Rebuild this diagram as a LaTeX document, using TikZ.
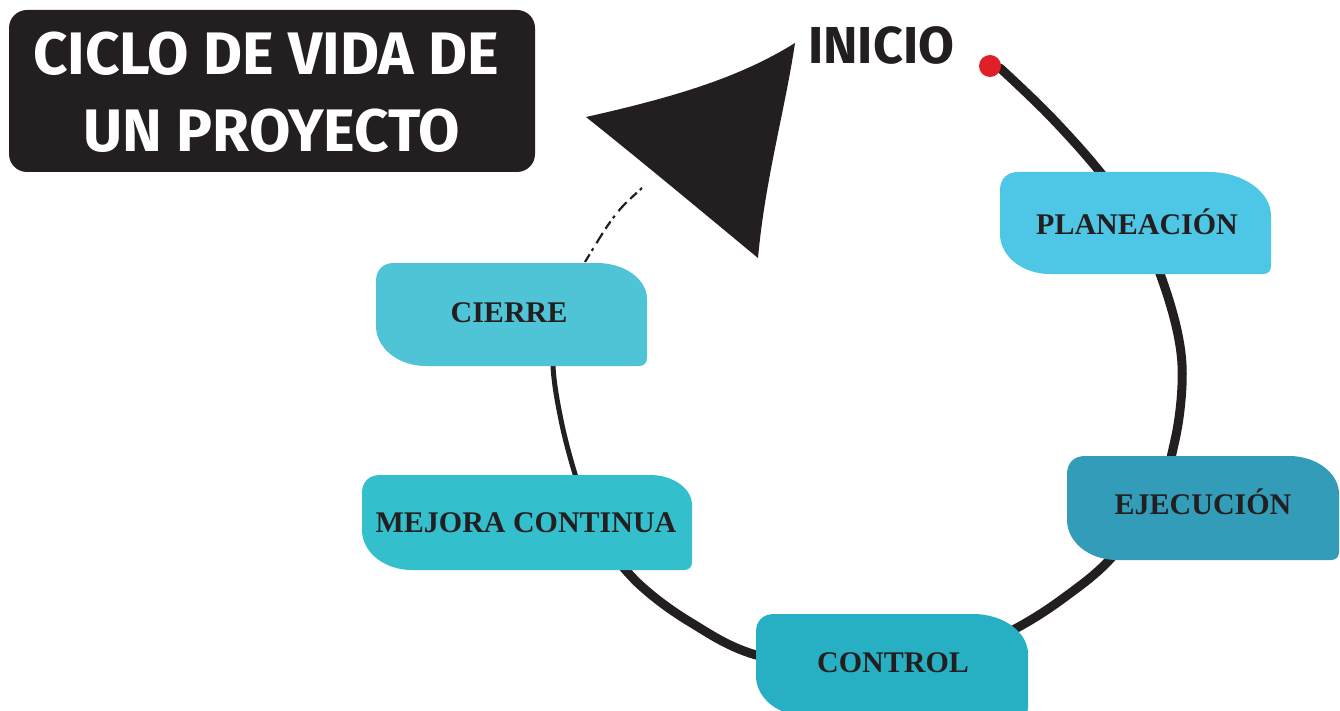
\documentclass[tikz,border=0pt]{standalone}
\usepackage{fontspec}
\setmainfont{Liberation Serif}
\newfontfamily\titlefont{Fira Sans}
\definecolor{ink}{HTML}{231F20}
\definecolor{cplan}{HTML}{4EC7E6}
\definecolor{cejec}{HTML}{339DB9}
\definecolor{ccont}{HTML}{27B0C3}
\definecolor{cmejo}{HTML}{33C0CC}
\definecolor{ccier}{HTML}{4FC4D6}
\definecolor{reddot}{HTML}{E02027}
\tikzset{
  lbl/.style={font=\fontsize{30}{30}\selectfont\bfseries, text=ink, inner sep=0pt},
  stroke/.style={draw=ink, line width=9pt, line cap=round, line join=round},
  thinstroke/.style={draw=ink, line width=5pt, line cap=round},
  ttl/.style={font=\titlefont\bfseries\fontsize{60}{77}\selectfont, text=white, anchor=base},
}
% #1 name, #2 x1, #3 y1, #4 x2, #5 y2, #6 colour, #7 text, #8 top-right h radius, #9 top-right v radius
\newcommand{\leafbox}[9]{%
  \fill[#6] (#2,#3+18) .. controls (#2,#3+7) and (#2+7,#3) .. (#2+18,#3)
    -- (#4-#8,#3) .. controls (#4-0.45*#8,#3) and (#4,#3+0.45*#9) .. (#4,#3+#9)
    -- (#4,#5-8) .. controls (#4,#5-3) and (#4-3,#5) .. (#4-8,#5)
    -- (#2+50,#5) .. controls (#2+22,#5) and (#2,#5-18) .. (#2,#5-40) -- cycle;
}
\begin{document}
\begin{tikzpicture}[x=1pt,y=-1pt]
\clip (0,0) rectangle (1340,711);
\fill[white] (0,0) rectangle (1340,711);

% title
\fill[ink, rounded corners=18pt] (9,10) rectangle (535,172);
\node[ttl] (t1) at (266,75) {CICLO DE VIDA DE};
\node[ttl] (t2) at (272,152) {UN PROYECTO};

% cycle stroke
\draw[stroke] plot[smooth, tension=0.6] coordinates {
  (1000,68) (1050,116) (1100,172) (1140,228) (1164,285) (1179,340) (1182,385)
  (1175,440) (1158,492) (1113,556) (1065,597) (1013,630) (950,658) (860,672)
  (756,655) (690,622) (640,585) (605,545)};
\draw[thinstroke] plot[smooth, tension=0.6] coordinates {
  (612,552) (590,515) (575,474) (561,420) (553,366) (556,320)};
% broken dashed part
\draw[ink, line width=2.2pt, dash pattern=on 9pt off 4pt on 3pt off 6pt on 12pt off 5pt]
  plot[smooth] coordinates {(585,262) (606,228) (622,207) (642,188)};

% triangle arrow head
\fill[ink] (586,117) .. controls (680,96) and (742,76) .. (795,43)
  .. controls (785,110) and (765,180) .. (758,258)
  .. controls (700,210) and (640,160) .. cycle;

% inicio
\node[font=\titlefont\bfseries\fontsize{52}{52}\selectfont, text=ink, anchor=base west, inner sep=0pt] (inicio) at (808,64) {INICIO};
\fill[reddot] (990,66) circle (11);

% boxes
\leafbox{plan}{1000}{172}{1271}{274}{cplan}{PLANEACIÓN}{62}{44}
\node[lbl] (plan) at (1137,222) {PLANEACIÓN};
\leafbox{ejec}{1067}{456}{1339}{560}{cejec}{EJECUCIÓN}{50}{38}
\node[lbl] (ejec) at (1203,502) {EJECUCIÓN};
\leafbox{cont}{756}{614}{1028}{716}{ccont}{CONTROL}{55}{40}
\node[lbl] (cont) at (893,663) {CONTROL};
\leafbox{mejo}{362}{475}{692}{570}{cmejo}{MEJORA CONTINUA}{42}{30}
\node[lbl] (mejo) at (526,523) {MEJORA CONTINUA};
\leafbox{cier}{376}{263}{647}{366}{ccier}{CIERRE}{50}{36}
\node[lbl] (cier) at (509,313) {CIERRE};
\end{tikzpicture}
\end{document}
